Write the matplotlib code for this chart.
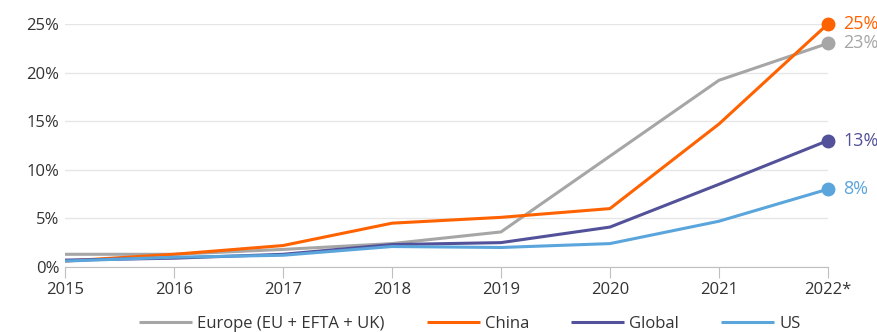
import numpy as np
import matplotlib.pyplot as plt

plt.rcParams['font.family'] = ['Open Sans', 'DejaVu Sans']

years = [2015, 2016, 2017, 2018, 2019, 2020, 2021, 2022]
year_labels = ["2015", "2016", "2017", "2018", "2019", "2020", "2021", "2022*"]

europe = [1.3, 1.3, 1.8, 2.4, 3.6, 11.4, 19.2, 23]
china = [0.6, 1.3, 2.2, 4.5, 5.1, 6.0, 14.7, 25]
global_ = [0.7, 0.9, 1.3, 2.3, 2.5, 4.1, 8.5, 13]
us = [0.6, 1.0, 1.2, 2.1, 2.0, 2.4, 4.7, 8]

series = [
    ("Europe (EU + EFTA + UK)", europe, "#a6a6a6"),
    ("China", china, "#ff6200"),
    ("Global", global_, "#525199"),
    ("US", us, "#5aa5dc"),
]

fig = plt.figure(figsize=(8.78, 3.32), dpi=100)
ax = fig.add_axes([0.074, 0.196, 0.869, 0.732])

for name, vals, col in series:
    ax.plot(years, vals, color=col, lw=2.2, label=name, solid_capstyle="butt")
    ax.plot(years[-1], vals[-1], "o", color=col, ms=9, clip_on=False)
    ax.text(years[-1] + 0.14, vals[-1], f"{vals[-1]:.0f}%", color=col,
            fontsize=13, va="center", ha="left")

ax.set_xlim(2015, 2022)
ax.set_ylim(0, 25)
ax.set_yticks([0, 5, 10, 15, 20, 25])
ax.set_yticklabels([f"{v}%" for v in [0, 5, 10, 15, 20, 25]])
ax.set_xticks(years)
ax.set_xticklabels(year_labels)
ax.grid(axis="y", color="#e6e6e6", lw=1)
ax.set_axisbelow(True)
for s in ["top", "right", "left"]:
    ax.spines[s].set_visible(False)
ax.spines["bottom"].set_color("#bfbfbf")
ax.tick_params(axis="y", length=0, labelsize=12, colors="#333333", pad=4)
ax.tick_params(axis="x", length=8, color="#bfbfbf", labelsize=12,
               colors="#333333", pad=3)

fig.legend(loc="center", bbox_to_anchor=(0.535, 0.025), ncol=4, frameon=False,
           fontsize=12, handlelength=3.2, columnspacing=2.5, handletextpad=0.3,
           labelcolor="#333333")

fig.savefig("out.png", dpi=100)
